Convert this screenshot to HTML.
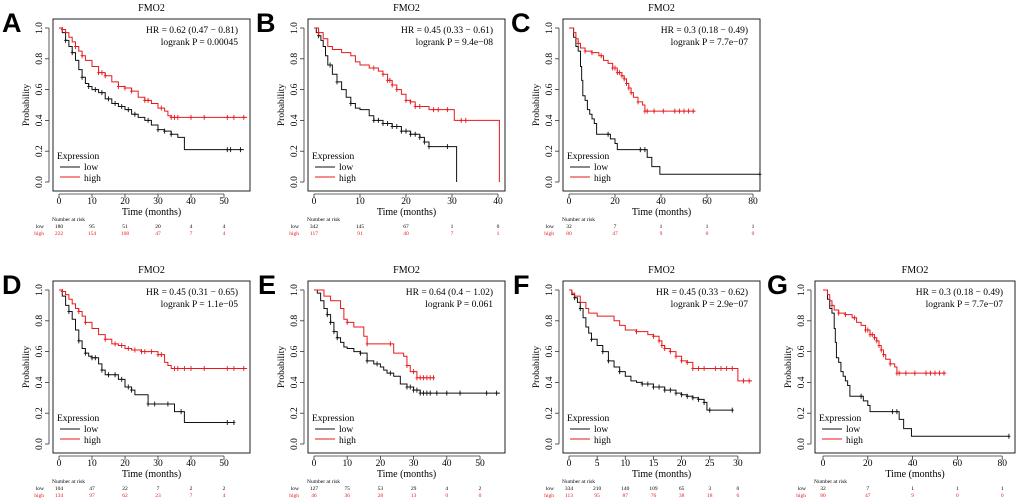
<!DOCTYPE html>
<html><head><meta charset="utf-8">
<style>
html,body{margin:0;padding:0;background:#fff;}
svg{display:block;font-family:"Liberation Serif",serif;}
.let{font-family:"Liberation Sans",sans-serif;font-weight:bold;font-size:27px;}
</style></head>
<body>
<svg id="fig" width="1020" height="504" viewBox="0 0 1020 504" xmlns="http://www.w3.org/2000/svg"></svg>
<script>
// ---- data ----
const aLowT=[0,1,2,3,4,5,6,7,8,9,10,12,14,16,18,20,22,24,26,28,30,32,34,36,38];
const aLowS=[1,.97,.92,.88,.84,.79,.73,.68,.64,.62,.60,.58,.54,.51,.49,.47,.44,.42,.40,.37,.34,.33,.31,.29,.21];
const aHighT=[0,1,2,3,4,5,6,7,8,10,12,14,16,18,20,22,24,26,28,30,32,33,34];
const aHighS=[1,.99,.97,.94,.91,.88,.85,.82,.79,.75,.71,.69,.65,.62,.61,.59,.55,.53,.51,.48,.46,.43,.42];
const aLowC=[2,4,7,9,11,13,15,17,19,21,23,27,30,32,34,51,52,55];
const aHighC=[1,5,7,12,13,14,18,20,22,26,27,31,34,35,36,40,44,51,53,56];
const aRiskLow=[180,95,51,20,4,4];
const aRiskHigh=[222,154,108,47,7,4];

const bLowT=[0,.5,1,1.5,2,2.5,3,4,5,6,7,8,9,10,12,13,15,17,19,21,23,24,25,31];
const bLowS=[1,.97,.95,.92,.88,.82,.76,.70,.65,.60,.55,.51,.48,.47,.43,.40,.38,.36,.33,.31,.29,.26,.23,0];
const bHighT=[0,1,2,3,4,6,8,9,10,12,14,15,16,17,18,19,20,21,22,25,30.5,40.3];
const bHighS=[1,.97,.93,.88,.86,.84,.82,.78,.76,.74,.72,.70,.66,.63,.60,.57,.53,.52,.49,.47,.40,0];
const bLowC=[1,3.5,5,8,13,14,15,16,17,18,19,20,21,22,23,24,25,29];
const bHighC=[1,13,15,16,16.5,17,18,20,21,22,23,26,27,29,32,33];
const bRiskLow=[342,145,67,1,0];
const bRiskHigh=[117,91,40,7,1];

const cLowT=[0,2,3,4,5,5.5,6,7,8,9,10,11,12,18,20,21,34,36,38,39.5];
const cLowS=[1,.94,.88,.85,.75,.66,.56,.53,.47,.44,.41,.38,.31,.28,.25,.21,.16,.10,.10,.05];
const cHighT=[0,2,3,4,5,7,10,13,15,17,19,21,23,24,25,26,27,28,30,32,33];
const cHighS=[1,.97,.93,.90,.87,.85,.84,.82,.79,.77,.74,.71,.69,.67,.64,.61,.58,.55,.52,.50,.46];
const cLowC=[17,31,33,83];
const cHighC=[4,7,10,14,19,20,21,22,23,24,25,26,27,30,33,34,37,41,46,48,50,52,54];
const cRiskLow=[32,7,1,1,1];
const cRiskHigh=[80,47,9,0,0];

const dLowT=[0,1,2,3,4,5,6,7,8,9,10,12,13,14,16,18,20,22,23,27,35,38];
const dLowS=[1,.96,.90,.86,.81,.74,.67,.62,.59,.57,.56,.52,.48,.45,.45,.42,.37,.35,.32,.26,.21,.14];
const dHighT=[0,1,2,3,4,5,6,7,8,10,12,14,16,18,20,22,25,30,32,33,34];
const dHighS=[1,.99,.97,.94,.91,.88,.86,.83,.79,.75,.71,.68,.65,.64,.62,.61,.60,.58,.53,.51,.49];
const dLowC=[3,6,8,10,11,13,15,17,19,21,22,27,29,33,37,51,53];
const dHighC=[1,6,8,14,17,19,21,23,25,26,28,30,31,35,36,38,40,44,51,53,56];
const dRiskLow=[104,47,22,7,2,2];
const dRiskHigh=[134,97,62,23,7,4];

const eLowT=[0,1,2,3,4,5,6,7,8,9,10,12,14,16,18,20,21,22,24,26,28,30,32];
const eLowS=[1,.98,.93,.88,.84,.79,.73,.69,.66,.63,.62,.60,.59,.54,.52,.50,.48,.46,.44,.39,.37,.35,.33];
const eHighT=[0,3,5,8,9,10,12,15,16,23,24,27,28,29,31];
const eHighS=[1,.96,.93,.88,.81,.79,.76,.70,.65,.65,.59,.57,.51,.47,.43];
const eLowC=[4,5,6,7,14,16,19,23,28,29,30,31,32,33,34,35,37,40,44,52,55];
const eHighC=[10,16,23,28,30,31,32,33,34,35,36];
const eRiskLow=[127,75,53,29,4,2];
const eRiskHigh=[46,36,28,13,0,0];

const fLowT=[0,.5,1,1.5,2,2.5,3,3.5,4,5,6,7,8,9,10,11,12,13,15,17,19,20,21,22,23,24,24.5];
const fLowS=[1,.97,.95,.92,.88,.82,.76,.72,.68,.64,.60,.54,.50,.47,.44,.41,.40,.39,.37,.35,.33,.32,.31,.30,.29,.27,.22];
const fHighT=[0,.5,1,2,3,3.5,5,8,9,10,12,14,15,16,16.5,17,18,19,20,21,22,30];
const fHighS=[1,.98,.96,.92,.88,.85,.83,.80,.77,.74,.73,.71,.70,.67,.64,.62,.60,.57,.54,.53,.49,.41];
const fLowC=[1,2,4,6,7,9,13,14,15,16,17,18,19,20,21,22,23,24,25,29];
const fHighC=[12,15,16,16.5,17,18,19,20,21,22,23,24,26,27,28,29,31,32];
const fRiskLow=[334,210,140,109,65,3,0];
const fRiskHigh=[113,95,87,76,38,18,6];

const xTicksA=[0,10,20,30,40,50];
const xTicksB=[0,10,20,30,40];
const xTicksC=[0,20,40,60,80];
const xTicksF=[0,5,10,15,20,25,30];
const yTicks=[0,0.2,0.4,0.6,0.8,1.0];

// ---- layout ----
const panels=[
 {id:'a',L:'A',lx:2,row:0,bx0:53,bx1:250,ox:59,ppu:3.3,ticks:xTicksA,lt:aLowT,ls:aLowS,le:56,ht:aHighT,hs:aHighS,he:57,lc:aLowC,hc:aHighC,rl:aRiskLow,rh:aRiskHigh,hr:'HR = 0.62 (0.47 \u2212 0.81)',lp:'logrank P = 0.00045'},
 {id:'b',L:'B',lx:256,row:0,bx0:308,bx1:505,ox:314,ppu:4.6,ticks:xTicksB,lt:bLowT,ls:bLowS,le:31,ht:bHighT,hs:bHighS,he:40.3,lc:bLowC,hc:bHighC,rl:bRiskLow,rh:bRiskHigh,hr:'HR = 0.45 (0.33 \u2212 0.61)',lp:'logrank P = 9.4e\u221208'},
 {id:'c',L:'C',lx:511,row:0,bx0:563,bx1:760,ox:569,ppu:2.3,ticks:xTicksC,lt:cLowT,ls:cLowS,le:83,ht:cHighT,hs:cHighS,he:55,lc:cLowC,hc:cHighC,rl:cRiskLow,rh:cRiskHigh,hr:'HR = 0.3 (0.18 \u2212 0.49)',lp:'logrank P = 7.7e\u221207'},
 {id:'d',L:'D',lx:2,row:1,bx0:53,bx1:250,ox:59,ppu:3.3,ticks:xTicksA,lt:dLowT,ls:dLowS,le:53,ht:dHighT,hs:dHighS,he:57,lc:dLowC,hc:dHighC,rl:dRiskLow,rh:dRiskHigh,hr:'HR = 0.45 (0.31 \u2212 0.65)',lp:'logrank P = 1.1e\u221205'},
 {id:'e',L:'E',lx:258,row:1,bx0:308,bx1:505,ox:314,ppu:3.32,ticks:xTicksA,lt:eLowT,ls:eLowS,le:56,ht:eHighT,hs:eHighS,he:36,lc:eLowC,hc:eHighC,rl:eRiskLow,rh:eRiskHigh,hr:'HR = 0.64 (0.4 \u2212 1.02)',lp:'logrank P = 0.061'},
 {id:'f',L:'F',lx:513,row:1,bx0:563,bx1:760,ox:569,ppu:5.63,ticks:xTicksF,lt:fLowT,ls:fLowS,le:29,ht:fHighT,hs:fHighS,he:32.5,lc:fLowC,hc:fHighC,rl:fRiskLow,rh:fRiskHigh,hr:'HR = 0.45 (0.33 \u2212 0.62)',lp:'logrank P = 2.9e\u221207'},
 {id:'g',L:'G',lx:767,row:1,bx0:815,bx1:1015,ox:823,ppu:2.24,ticks:xTicksC,lt:cLowT,ls:cLowS,le:83,ht:cHighT,hs:cHighS,he:55,lc:cLowC,hc:cHighC,rl:cRiskLow,rh:cRiskHigh,hr:'HR = 0.3 (0.18 \u2212 0.49)',lp:'logrank P = 7.7e\u221207'}
];
const NS='http://www.w3.org/2000/svg';
const svg=document.getElementById('fig');
function mk(tag,attrs,parent){const e=document.createElementNS(NS,tag);for(const k in attrs)e.setAttribute(k,attrs[k]);(parent||svg).appendChild(e);return e;}
function txt(s,attrs,parent){const e=mk('text',attrs,parent);e.textContent=s;return e;}
function survAt(T,S,t){let v=1;for(let i=0;i<T.length;i++){if(T[i]<=t)v=S[i];}return v;}

panels.forEach(p=>{
  const dy=p.row*262;
  const y1=28+dy,y0=182+dy;
  const X=t=>p.ox+t*p.ppu;
  const Y=s=>y0-(y0-y1)*s;
  const g=mk('g',{});
  
  
  const let_=txt(p.L,{x:p.lx,y:32+dy,class:'let'},g);
  
  
  const ti=txt('FMO2',{x:(p.bx0+p.bx1)/2,y:11+dy,'font-size':10,'text-anchor':'middle'},g);
  
  
  const box=mk('rect',{x:p.bx0,y:19+dy,width:p.bx1-p.bx0,height:172,fill:'none',stroke:'#222','stroke-width':1},g);
  
  
  mk('line',{x1:p.bx0-4,x2:p.bx0-4,y1:y1,y2:y0,stroke:'#333','stroke-width':0.8},g);
  yTicks.forEach(v=>{
    mk('line',{x1:p.bx0-8,x2:p.bx0-4,y1:Y(v),y2:Y(v),stroke:'#333','stroke-width':0.8},g);
    const tl=txt(v.toFixed(1),{x:0,y:0,'font-size':9.5,'text-anchor':'middle',transform:`translate(${p.bx0-11},${Y(v)}) rotate(-90)`},g);
    
    
  });
  const yt=txt('Probability',{x:0,y:0,'font-size':9.5,'text-anchor':'middle',transform:`translate(${p.bx0-24},${(y0+y1)/2}) rotate(-90)`},g);
  
  
  const xa=191+dy+3;
  mk('line',{x1:X(p.ticks[0]),x2:X(p.ticks[p.ticks.length-1]),y1:xa,y2:xa,stroke:'#333','stroke-width':0.8},g);
  p.ticks.forEach((v,i)=>{
    mk('line',{x1:X(v),x2:X(v),y1:xa,y2:xa+4,stroke:'#333','stroke-width':0.8},g);
    const tl=txt(String(v),{x:X(v),y:xa+10,'font-size':9.5,'text-anchor':'middle'},g);
    
    
    const rl=txt(String(p.rl[i]),{x:X(v),y:228+dy,'font-size':5.5,'text-anchor':'middle'},g);
    
    
    const rh=txt(String(p.rh[i]),{x:X(v),y:235+dy,'font-size':5.5,'text-anchor':'middle',fill:'#e41a1c'},g);
    
    
  });
  const xt=txt('Time (months)',{x:(p.bx0+p.bx1)/2,y:215+dy,'font-size':10,'text-anchor':'middle'},g);
  
  
  const nr=txt('Number at risk',{x:p.bx0-1,y:221+dy,'font-size':5.5},g);
  
  
  const rll=txt('low',{x:p.bx0-9,y:228+dy,'font-size':5.5,'text-anchor':'end'},g);
  
  
  const rhl=txt('high',{x:p.bx0-9,y:235+dy,'font-size':5.5,'text-anchor':'end',fill:'#e41a1c'},g);
  
  
  const hr=txt(p.hr,{x:p.bx1-12,y:33+dy,'font-size':9.5,'text-anchor':'end'},g);
  
  
  const lp=txt(p.lp,{x:p.bx1-12,y:45+dy,'font-size':9.5,'text-anchor':'end'},g);
  
  
  [['low','#111',p.lt,p.ls,p.le,p.lc],['high','#e8191c',p.ht,p.hs,p.he,p.hc]].forEach(([nm,col,T,S,end,C])=>{
    let d=`M${X(T[0])},${Y(S[0])}`;
    for(let i=1;i<T.length;i++){d+=` H${X(T[i])} V${Y(S[i])}`;}
    d+=` H${X(end)}`;
    const path=mk('path',{d:d,fill:'none',stroke:col,'stroke-width':1},g);
    
    
    C.forEach(t=>{
      const cx=X(t),cy=Y(survAt(T,S,t));
      const cm=mk('path',{d:`M${cx},${cy-2.5} V${cy+2.5} M${cx-1.5},${cy} H${cx+1.5}`,stroke:col,'stroke-width':0.9},g);
      
      
    });
  });
  const lg=mk('g',{},g);
  
  
  txt('Expression',{x:p.bx0+4,y:159+dy,'font-size':9.5},lg);
  mk('line',{x1:p.bx0+7,x2:p.bx0+27,y1:167+dy,y2:167+dy,stroke:'#111','stroke-width':1},lg);
  txt('low',{x:p.bx0+31,y:170+dy,'font-size':9.5},lg);
  mk('line',{x1:p.bx0+7,x2:p.bx0+27,y1:177+dy,y2:177+dy,stroke:'#e8191c','stroke-width':1},lg);
  txt('high',{x:p.bx0+31,y:181+dy,'font-size':9.5},lg);
});
</script>
</body></html>
